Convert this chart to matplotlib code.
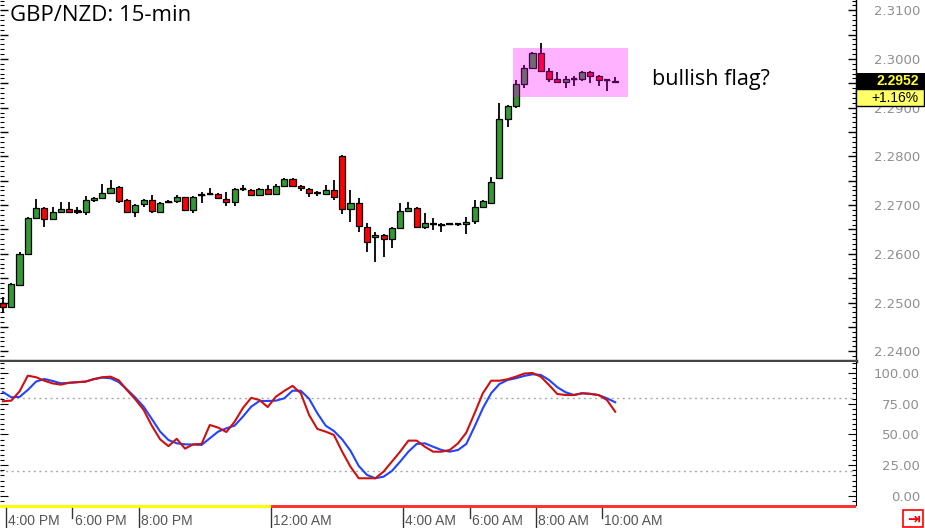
import matplotlib
matplotlib.use("Agg")
import matplotlib.pyplot as plt
from matplotlib.patches import Rectangle
from matplotlib.ticker import MultipleLocator, FuncFormatter
import matplotlib.transforms as mtransforms

# 15-min GBP/NZD candles (open, high, low, close), 4:00 PM -> 10:30 AM
opens = [2.2499, 2.2491, 2.2536, 2.2600, 2.2674, 2.2694, 2.2671, 2.2686, 2.2692, 2.2686,
         2.2686, 2.2710, 2.2715, 2.2725, 2.2737, 2.2710, 2.2686, 2.2702, 2.2710, 2.2686,
         2.2706, 2.2708, 2.2717, 2.2690, 2.2721, 2.2723, 2.2723, 2.2713, 2.2706, 2.2733,
         2.2731, 2.2721, 2.2733, 2.2723, 2.2739, 2.2754, 2.2739, 2.2733, 2.2725, 2.2723,
         2.2731, 2.2801, 2.2692, 2.2704, 2.2655, 2.2634, 2.2638, 2.2630, 2.2653, 2.2688,
         2.2694, 2.2655, 2.2661, 2.2660, 2.2661, 2.2661, 2.2661, 2.2667, 2.2696, 2.2704,
         2.2756, 2.2877, 2.2903, 2.2949, 2.2982, 2.3012, 2.2975, 2.2959, 2.2953, 2.2959,
         2.2959, 2.2973, 2.2965, 2.2957, 2.2955]
highs = [2.2511, 2.2540, 2.2604, 2.2676, 2.2713, 2.2696, 2.2696, 2.2706, 2.2706, 2.2697,
         2.2719, 2.2717, 2.2743, 2.2752, 2.2739, 2.2712, 2.2702, 2.2712, 2.2721, 2.2706,
         2.2710, 2.2721, 2.2717, 2.2719, 2.2727, 2.2735, 2.2725, 2.2727, 2.2735, 2.2741,
         2.2733, 2.2736, 2.2741, 2.2743, 2.2756, 2.2756, 2.2741, 2.2735, 2.2728, 2.2741,
         2.2751, 2.2803, 2.2731, 2.2715, 2.2663, 2.2645, 2.2640, 2.2655, 2.2704, 2.2706,
         2.2696, 2.2684, 2.2674, 2.2663, 2.2662, 2.2662, 2.2675, 2.2710, 2.2710, 2.2758,
         2.2910, 2.2905, 2.2956, 2.2988, 2.3014, 2.3033, 2.2982, 2.2973, 2.2966, 2.2966,
         2.2975, 2.2975, 2.2967, 2.2958, 2.2962]
lows = [2.2480, 2.2489, 2.2534, 2.2598, 2.2672, 2.2655, 2.2669, 2.2684, 2.2684, 2.2682,
        2.2680, 2.2707, 2.2713, 2.2723, 2.2704, 2.2684, 2.2676, 2.2697, 2.2684, 2.2684,
        2.2704, 2.2704, 2.2688, 2.2684, 2.2704, 2.2721, 2.2713, 2.2698, 2.2698, 2.2729,
        2.2719, 2.2719, 2.2721, 2.2721, 2.2737, 2.2737, 2.2729, 2.2717, 2.2719, 2.2721,
        2.2711, 2.2682, 2.2665, 2.2645, 2.2604, 2.2583, 2.2593, 2.2612, 2.2651, 2.2686,
        2.2653, 2.2651, 2.2649, 2.2645, 2.2660, 2.2657, 2.2641, 2.2661, 2.2694, 2.2702,
        2.2754, 2.2860, 2.2899, 2.2941, 2.2980, 2.2973, 2.2953, 2.2951, 2.2941, 2.2945,
        2.2955, 2.2951, 2.2944, 2.2935, 2.2950]
closes = [2.2491, 2.2538, 2.2600, 2.2674, 2.2694, 2.2671, 2.2686, 2.2692, 2.2686, 2.2687,
          2.2710, 2.2715, 2.2725, 2.2735, 2.2708, 2.2686, 2.2700, 2.2710, 2.2688, 2.2704,
          2.2707, 2.2717, 2.2690, 2.2717, 2.2721, 2.2723, 2.2715, 2.2706, 2.2733, 2.2733,
          2.2721, 2.2733, 2.2723, 2.2739, 2.2754, 2.2739, 2.2735, 2.2725, 2.2725, 2.2731,
          2.2717, 2.2692, 2.2704, 2.2657, 2.2624, 2.2638, 2.2630, 2.2653, 2.2688, 2.2694,
          2.2655, 2.2663, 2.2661, 2.2660, 2.2661, 2.2661, 2.2665, 2.2696, 2.2708, 2.2747,
          2.2877, 2.2903, 2.2949, 2.2982, 2.3012, 2.2975, 2.2959, 2.2953, 2.2959, 2.2959,
          2.2973, 2.2965, 2.2957, 2.2956, 2.2952]

# stochastic oscillator lines
stoch_red = [77, 77.5, 85, 97.8, 96.5, 93.7, 91.5, 90.5, 92, 92.5,
             93, 95, 96.5, 97, 94, 86, 78.5, 70, 57, 46,
             40.5, 46.5, 38.5, 42, 42.3, 57.7, 55.6, 52, 60.4, 71.5,
             79.8, 78, 72.3, 80.8, 85.4, 89.5, 83.5, 65.8, 54.5, 52.3,
             49.6, 36, 23.8, 14.4, 14.4, 14.4, 19.8, 27.9, 36, 45,
             45, 40, 36, 36, 37.4, 42.8, 51.5, 67.2, 83.5, 93.7,
             93.7, 94.9, 97, 99.5, 100, 97, 90.2, 82.9, 82.1, 82,
             83.5, 83, 82, 78, 68.5]
stoch_blue = [84.5, 80.2, 80.5, 86.2, 93, 95.1, 93.5, 91.6, 92, 92.5,
              93, 95, 96.2, 95.7, 92.5, 86.5, 80, 72.6, 62.5, 52.3,
              45.5, 42.8, 42, 41.8, 41.5, 46.9, 52.3, 55, 57.2, 64.5,
              72.6, 77.2, 77.2, 77.5, 79.4, 85.6, 85.5, 79, 67.2, 57.2,
              52.8, 46, 36.8, 24.4, 17.1, 14.4, 15.7, 20.3, 27.9, 36,
              42.3, 42.8, 40, 37.4, 36, 37.4, 42.3, 56.4, 71.3, 83.5,
              91, 94.3, 95.7, 97.6, 98.9, 98.4, 94.3, 88.4, 84.3, 82.1,
              83.5, 83, 82, 79.4, 76.2]

time_idx = [0, 8, 16, 32, 48, 56, 64, 72]
time_labels = ["4:00 PM", "6:00 PM", "8:00 PM", "12:00 AM", "4:00 AM", "6:00 AM", "8:00 AM", "10:00 AM"]
long_ticks = [0, 16, 32, 48, 64]

last_price = "2.2952"
pct_change = "+1.16%"

n = len(closes)
xs = list(range(n))
green = "#339933"
red = "#ff0000"

fig = plt.figure(figsize=(9.25, 5.28), dpi=100)
ax = fig.add_axes([0, 0.3163, 0.9254, 0.6837])
ax2 = fig.add_axes([0, 0.0436, 0.9254, 0.2708])

x_lo, x_hi = -0.36, 103.1

# price candles
ax.vlines(xs, lows, highs, color="black", lw=1.3, zorder=2)
body_col = [green if c >= o else red for o, c in zip(opens, closes)]
ax.bar(xs, [c - o for o, c in zip(opens, closes)], bottom=opens, width=0.74,
       color=body_col, edgecolor="black", linewidth=0.9, zorder=3)
for i in xs:
    if abs(closes[i] - opens[i]) < 0.00025:
        ax.hlines(closes[i], i - 0.4, i + 0.4, color="black", lw=1.6, zorder=4)

# flag highlight
ax.add_patch(Rectangle((61.65, 2.2922), 13.9, 0.01006, facecolor="#ff00ff",
                       alpha=0.3, edgecolor="none", zorder=5))

ax.set_xlim(x_lo, x_hi)
ax.set_ylim(2.23799, 2.31211)
ax.set_xticks([])
for s in ["top", "left"]:
    ax.spines[s].set_visible(False)
ax.spines["right"].set_linewidth(1)
ax.spines["bottom"].set_color("#444444")
ax.spines["bottom"].set_linewidth(2.5)
ax.yaxis.set_ticks_position("both")
ax.tick_params(axis="y", which="both", direction="in", labelleft=False, labelright=True,
               colors="black", labelcolor="#8f8f8f", labelsize=9.5, pad=46)
ax.tick_params(axis="y", which="major", length=6, width=1)
ax.tick_params(axis="y", which="minor", length=3, width=0.8)
ax.yaxis.set_major_locator(MultipleLocator(0.005))
ax.yaxis.set_minor_locator(MultipleLocator(0.001))
ax.yaxis.set_major_formatter(FuncFormatter(
    lambda v, p: f"{v:.4f}" if abs(round(v * 100) - v * 100) < 1e-6 else ""))
for lbl in ax.get_yticklabels():
    lbl.set_horizontalalignment("right")

ax.text(10, 0.987, "GBP/NZD: 15-min", transform=mtransforms.blended_transform_factory(
    mtransforms.IdentityTransform(), ax.transAxes), fontsize=16, family="Open Sans",
    va="top", ha="left")
ax.text(78.5, 2.2957, "bullish flag?", fontsize=15.5, family="Open Sans", va="center", ha="left")

# stochastic panel
ax2.plot(xs, stoch_blue, color="#2244ff", lw=1.5, zorder=3)
ax2.plot(xs, stoch_red, color="#cc1111", lw=1.5, zorder=4)
ax2.axhline(80, color="#aaaaaa", lw=1, ls=(0, (1.5, 2.5)), zorder=1)
ax2.axhline(20, color="#aaaaaa", lw=1, ls=(0, (1.5, 2.5)), zorder=1)
ax2.set_xlim(x_lo, x_hi)
ax2.set_ylim(-7.3, 108.9)
for s in ["top", "left"]:
    ax2.spines[s].set_visible(False)
ax2.spines["bottom"].set_visible(False)
ax2.yaxis.set_ticks_position("both")
ax2.tick_params(axis="y", which="both", direction="in", labelleft=False, labelright=True,
                labelcolor="#8f8f8f", labelsize=9.5, pad=46)
ax2.tick_params(axis="y", which="major", length=6)
ax2.tick_params(axis="y", which="minor", length=3, width=0.8)
ax2.yaxis.set_major_locator(MultipleLocator(25))
ax2.yaxis.set_minor_locator(MultipleLocator(25 / 6))
ax2.yaxis.set_major_formatter(FuncFormatter(lambda v, p: f"{v:.2f}"))
for lbl in ax2.get_yticklabels():
    lbl.set_horizontalalignment("right")

# session bar and time axis
bt = mtransforms.blended_transform_factory(ax2.transData, ax2.transAxes)
ax2.add_patch(Rectangle((x_lo, -0.022), 32.4 - x_lo, 0.022, transform=bt,
                        facecolor="#ffff00", edgecolor="none", clip_on=False))
ax2.add_patch(Rectangle((32.4, -0.022), x_hi - 32.4, 0.022, transform=bt,
                        facecolor="#ff3333", edgecolor="none", clip_on=False))
ax2.set_xticks([])
for i, lab in zip(time_idx, time_labels):
    tx = i + 0.4
    y1 = -0.19 if i in long_ticks else -0.09
    ax2.plot([tx, tx], [-0.02, y1], transform=bt, color="#333333", lw=1, clip_on=False)
    ax2.text(tx + 0.25, -0.11, lab, transform=bt, fontsize=10, color="#555555",
             family="Liberation Sans", va="center", ha="left")

# last price tags
fig.patches.append(Rectangle((856 / 925, 1 - 89 / 528), 69 / 925, 16 / 528,
                             transform=fig.transFigure, facecolor="black", edgecolor="none"))
fig.text(919 / 925, 1 - 81 / 528, last_price, color="#ffff33", fontsize=10,
         family="Liberation Sans", fontweight="bold", ha="right", va="center")
fig.patches.append(Rectangle((856 / 925, 1 - 106 / 528), 68 / 925, 17 / 528,
                             transform=fig.transFigure, facecolor="#ffff66",
                             edgecolor="black", lw=1))
fig.text(919 / 925, 1 - 98 / 528, pct_change, color="black", fontsize=10,
         family="Liberation Sans", ha="right", va="center")

# scroll-to-end icon
fig.patches.append(Rectangle((903 / 925, 1 - 527 / 528), 20 / 925, 17 / 528,
                             transform=fig.transFigure, facecolor="white",
                             edgecolor="#ff0000", lw=1.2))
fig.text(913 / 925, 1 - 518.5 / 528, "\u21e5", color="#ff0000", fontsize=11,
         family="DejaVu Sans", fontweight="bold", ha="center", va="center")

fig.savefig("out.png", dpi=100)
